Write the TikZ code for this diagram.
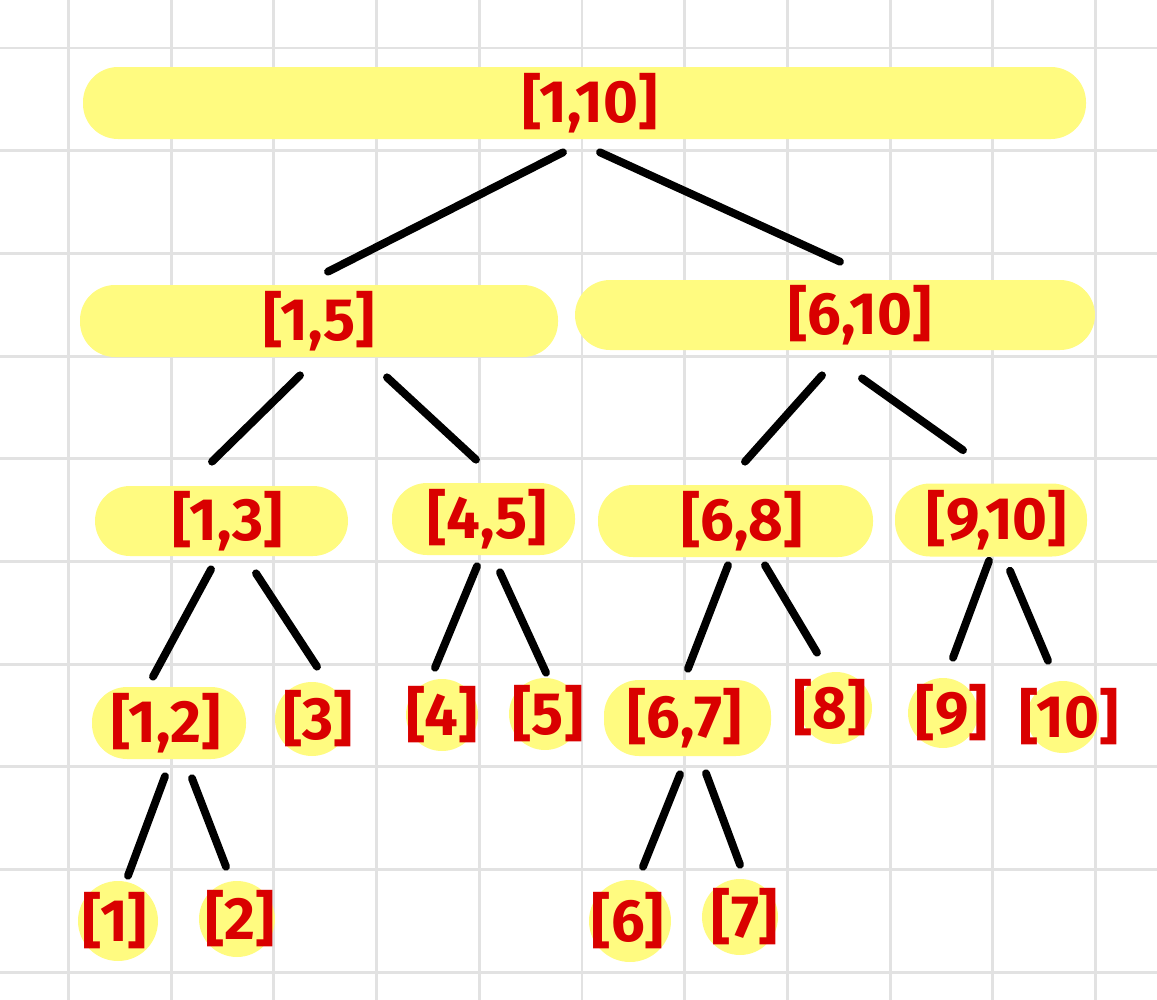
\documentclass[tikz,border=0pt]{standalone}
\usepackage{fontspec}
\setmainfont{Fira Sans}
\usetikzlibrary{positioning}
\definecolor{hl}{HTML}{FFFB80}
\definecolor{ink}{HTML}{D90000}
\definecolor{paper}{HTML}{E2E2E2}
\tikzstyle{pill} = [rectangle, rounded corners=0.7cm, minimum height=1.44cm, inner sep=0pt, fill=hl]
\tikzstyle{dot} = [circle, minimum size=1.44cm, inner sep=0pt, fill=hl]
\tikzstyle{tag} = [text=ink, font=\bfseries\fontsize{34pt}{34pt}\selectfont]
\tikzstyle{branch} = [line width=4.5pt, line cap=round]
\tikzstyle{gridline} = [draw=paper, line width=1.7pt]
\begin{document}
\begin{tikzpicture}[node distance=4cm]
	\useasboundingbox (0,0) rectangle (23.14,-20);
	% squared paper
	\foreach \i in {0,...,10} \draw [gridline] (1.37+2.054*\i,0) -- ++(0,-20);
	\foreach \j in {0,...,9} \draw [gridline] (0,-0.96-2.054*\j) -- ++(23.14,0);
	% segments
	\node (root) [pill, minimum width=20.06cm, label={[tag, xshift=0.11cm]center:{[1,10]}}] at (11.69,-2.06) {};
	\node (n15) [pill, minimum width=9.56cm, below of=root, xshift=-5.31cm, yshift=-0.36cm, label={[tag]center:{[1,5]}}] {};
	\node (n610) [pill, minimum width=10.4cm, minimum height=1.4cm, below of=root, xshift=5.01cm, yshift=-0.24cm, label={[tag, xshift=0.5cm]center:{[6,10]}}] {};
	\node (n13) [pill, minimum width=5.06cm, minimum height=1.4cm, below of=n15, xshift=-1.95cm, label={[tag, xshift=0.13cm]center:{[1,3]}}] {};
	\node (n45) [pill, minimum width=3.66cm, below of=n15, xshift=3.29cm, yshift=0.04cm, label={[tag, xshift=0.07cm]center:{[4,5]}}] {};
	\node (n68) [pill, minimum width=5.5cm, below of=n610, xshift=-1.99cm, yshift=-0.12cm, label={[tag, xshift=0.13cm]center:{[6,8]}}] {};
	\node (n910) [pill, minimum width=3.84cm, minimum height=1.46cm, below of=n610, xshift=3.12cm, yshift=-0.1cm, label={[tag, xshift=0.12cm]center:{[9,10]}}] {};
	\node (n12) [pill, minimum width=3.08cm, below of=n13, xshift=-1.05cm, yshift=-0.04cm, label={[tag, xshift=-0.06cm]center:{[1,2]}}] {};
	\node (n3) [dot, minimum size=1.48cm, below of=n13, xshift=1.81cm, yshift=0.04cm, label={[tag, xshift=0.12cm]center:{[3]}}] {};
	\node (n4) [dot, below of=n45, xshift=-0.83cm, yshift=0.08cm, label={[tag]center:{[4]}}] {};
	\node (n5) [dot, below of=n45, xshift=1.23cm, yshift=0.1cm, label={[tag, xshift=0.06cm]center:{[5]}}] {};
	\node (n67) [pill, minimum width=3.34cm, minimum height=1.52cm, below of=n68, xshift=-0.96cm, yshift=0.06cm, label={[tag, xshift=-0.06cm]center:{[6,7]}}] {};
	\node (n8) [dot, below of=n68, xshift=2.01cm, yshift=0.26cm, label={[tag, xshift=-0.12cm]center:{[8]}}] {};
	\node (n9) [dot, minimum size=1.4cm, below of=n910, xshift=-0.96cm, yshift=0.14cm, label={[tag, xshift=0.18cm]center:{[9]}}] {};
	\node (n10) [dot, below of=n910, xshift=1.44cm, yshift=0.06cm, label={[tag, xshift=0.12cm]center:{[10]}}] {};
	\node (n1) [dot, minimum size=1.6cm, below of=n12, xshift=-1.02cm, yshift=0.04cm, label={[tag, xshift=-0.06cm]center:{[1]}}] {};
	\node (n2) [dot, minimum size=1.52cm, below of=n12, xshift=1.36cm, yshift=0.08cm, label={[tag, xshift=0.06cm]center:{[2]}}] {};
	\node (n6) [dot, minimum size=1.64cm, below of=n67, xshift=-1.15cm, yshift=-0.06cm, label={[tag, xshift=-0.04cm]center:{[6]}}] {};
	\node (n7) [dot, minimum size=1.52cm, below of=n67, xshift=1.05cm, yshift=0.02cm, label={[tag, xshift=0.1cm]center:{[7]}}] {};
	% branches
	\draw [branch] ([shift={(-0.43,-0.26)}]root.south) -- ([shift={(0.18,0.26)}]n15.north);
	\draw [branch] ([shift={(0.31,-0.26)}]root.south) -- ([shift={(0.1,0.36)}]n610.north);
	\draw [branch] ([shift={(-0.38,-0.36)}]n15.south) -- ([shift={(-0.19,0.48)}]n13.north);
	\draw [branch] ([shift={(1.36,-0.4)}]n15.south) -- ([shift={(-0.15,0.46)}]n45.north);
	\draw [branch] ([shift={(-0.26,-0.5)}]n610.south) -- ([shift={(0.19,0.46)}]n68.north);
	\draw [branch] ([shift={(0.54,-0.56)}]n610.south) -- ([shift={(-0.56,0.66)}]n910.north);
	\draw [branch] ([shift={(-0.21,-0.26)}]n13.south) -- ([shift={(-0.32,0.2)}]n12.north);
	\draw [branch] ([shift={(0.69,-0.34)}]n13.south) -- ([shift={(0.1,0.3)}]n3.north);
	\draw [branch] ([shift={(-0.13,-0.22)}]n45.south) -- ([shift={(-0.14,0.22)}]n4.north);
	\draw [branch] ([shift={(0.33,-0.34)}]n45.south) -- ([shift={(0.02,0.1)}]n5.north);
	\draw [branch] ([shift={(-0.15,-0.16)}]n68.south) -- ([shift={(0.01,0.22)}]n67.north);
	\draw [branch] ([shift={(0.59,-0.16)}]n68.south) -- ([shift={(-0.38,0.38)}]n8.north);
	\draw [branch] ([shift={(-0.04,-0.08)}]n910.south) -- ([shift={(0.2,0.4)}]n9.north);
	\draw [branch] ([shift={(0.38,-0.28)}]n910.south) -- ([shift={(-0.3,0.4)}]n10.north);
	\draw [branch] ([shift={(-0.08,-0.34)}]n12.south) -- ([shift={(0.2,0.1)}]n1.north);
	\draw [branch] ([shift={(0.46,-0.38)}]n12.south) -- ([shift={(-0.22,0.28)}]n2.north);
	\draw [branch] ([shift={(-0.15,-0.36)}]n67.south) -- ([shift={(0.26,0.26)}]n6.north);
	\draw [branch] ([shift={(0.37,-0.34)}]n67.south) -- ([shift={(0,0.28)}]n7.north);
\end{tikzpicture}
\end{document}
